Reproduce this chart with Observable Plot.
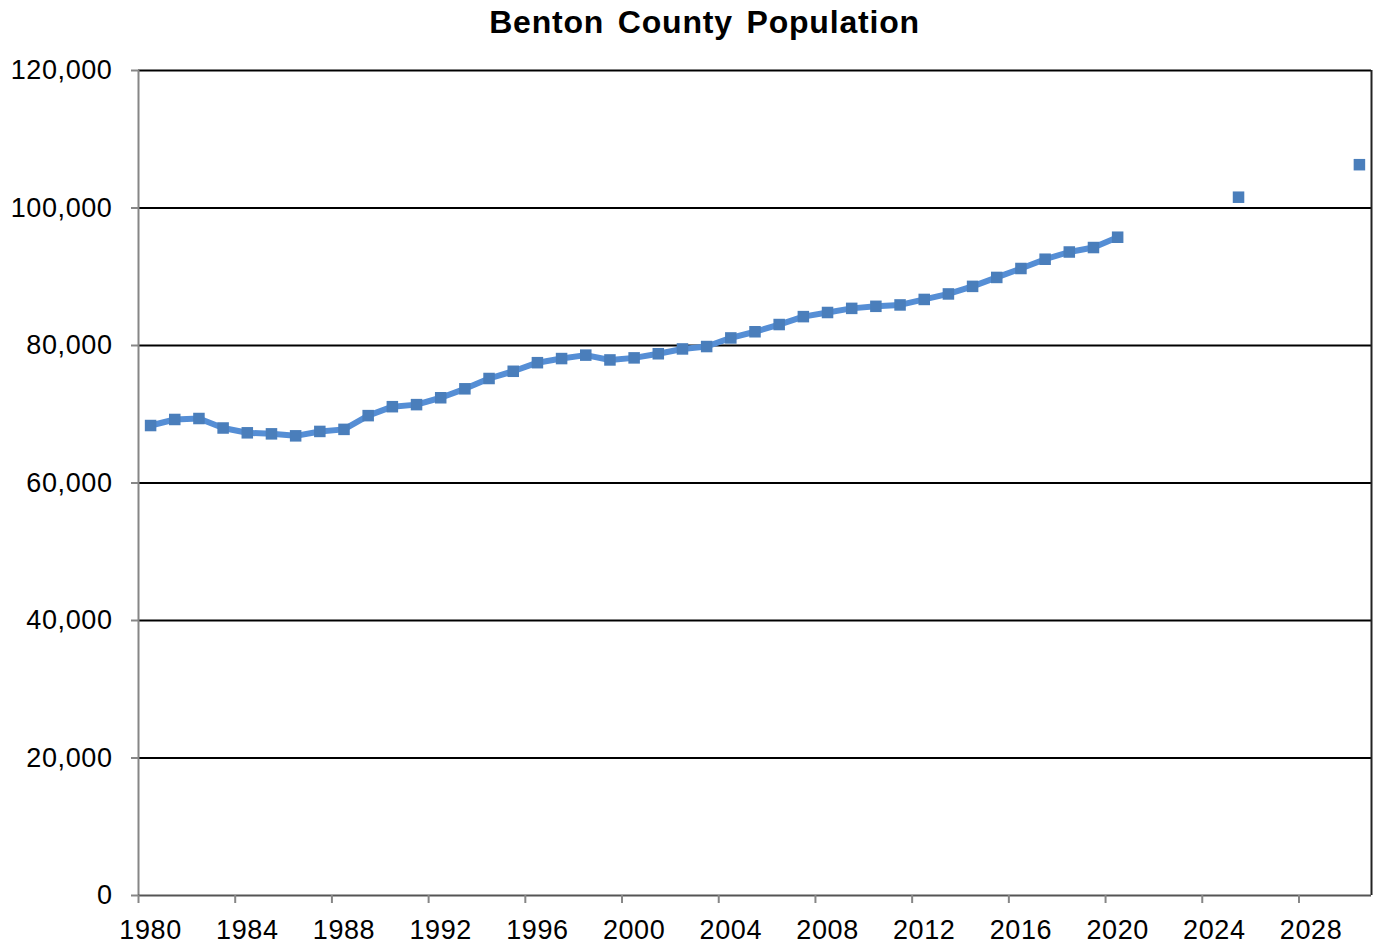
<!DOCTYPE html>
<html>
<head>
<meta charset="utf-8">
<script src="https://cdn.jsdelivr.net/npm/d3@7"></script>
<script src="https://cdn.jsdelivr.net/npm/@observablehq/plot@0.6"></script>
<style>
  html, body { margin: 0; padding: 0; background: #fff; }
  #title { height: 44px; line-height: 44px; text-align: center; font-family: "Liberation Sans", Arial, sans-serif; font-weight: bold; font-size: 32px; letter-spacing: 0.8px; word-spacing: 4px; color: #000; padding-left: 36px; width: 1373px; box-sizing: border-box; }
</style>
</head>
<body>
<div id="title">Benton County Population</div>
<div id="chart"></div>
<script>
const years = [1980,1981,1982,1983,1984,1985,1986,1987,1988,1989,1990,1991,1992,1993,1994,1995,1996,1997,1998,1999,2000,2001,2002,2003,2004,2005,2006,2007,2008,2009,2010,2011,2012,2013,2014,2015,2016,2017,2018,2019,2020];
const population = [68360,69240,69380,68000,67300,67150,66860,67500,67800,69800,71100,71400,72400,73700,75200,76250,77500,78100,78600,77900,78200,78800,79500,79850,81100,82000,83050,84200,84800,85400,85700,85900,86700,87500,88600,89900,91200,92550,93600,94250,95750];
const projYears = [2025, 2030];
const projPopulation = [101570, 106300];
const xTickYears = [1980,1984,1988,1992,1996,2000,2004,2008,2012,2016,2020,2024,2028];
const yTicks = [0,20000,40000,60000,80000,100000,120000];
const gridValues = [20000,40000,60000,80000,100000,120000];

const hist = years.map((y, i) => ({year: y, value: population[i]}));
const proj = projYears.map((y, i) => ({year: y, value: projPopulation[i]}));

const lineColor = "#558ED5";
const markerColor = "#4A7EBB";

const chart = Plot.plot({
  width: 1373,
  height: 901,
  marginLeft: 138,
  marginRight: 2,
  marginTop: 26,
  marginBottom: 50,
  style: {fontFamily: "'Liberation Sans', Arial, sans-serif", fontSize: "27px", color: "#000", background: "#fff", letterSpacing: "0.6px"},
  x: {domain: [1980, 2031]},
  y: {domain: [0, 120000]},
  marks: [
    Plot.ruleY(gridValues, {stroke: "#000", strokeWidth: 2}),
    Plot.ruleX([1980], {stroke: "#868686", strokeWidth: 2}),
    Plot.ruleX([2031], {stroke: "#222", strokeWidth: 2}),
    Plot.ruleY([0], {stroke: "#555", strokeWidth: 2}),
    Plot.axisY({ticks: yTicks, tickSize: 7, stroke: "#868686", strokeWidth: 2, tickFormat: () => "", label: null}),
    Plot.axisY({ticks: yTicks, tickSize: 0, tickPadding: 26, color: "#000", fontSize: 27, tickFormat: d3.format(","), label: null}),
    Plot.axisX({ticks: xTickYears, tickSize: 8, stroke: "#868686", strokeWidth: 2, tickFormat: () => "", label: null}),
    Plot.axisX({ticks: xTickYears.map(d => d + 0.5), tickSize: 0, tickPadding: 24, color: "#000", fontSize: 27, tickFormat: d => String(Math.round(d - 0.5)), label: null}),
    Plot.line(hist, {x: d => d.year + 0.5, y: "value", stroke: lineColor, strokeWidth: 6, strokeLinejoin: "round", strokeLinecap: "round"}),
    Plot.dot(hist, {x: d => d.year + 0.5, y: "value", symbol: "square", r: 6.5, fill: markerColor, stroke: null}),
    Plot.dot(proj, {x: d => d.year + 0.5, y: "value", symbol: "square", r: 6.5, fill: markerColor, stroke: null})
  ]
});
document.getElementById("chart").appendChild(chart);
</script>
</body>
</html>
